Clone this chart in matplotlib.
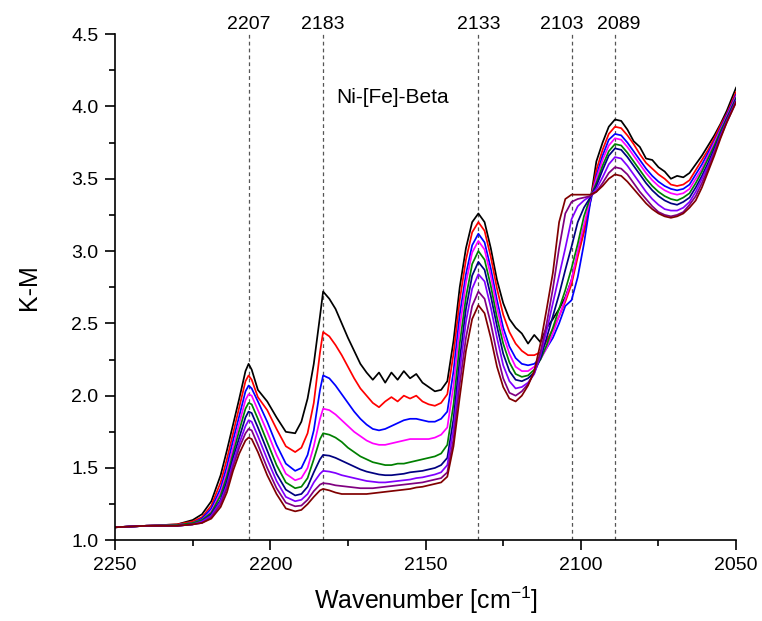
import matplotlib
matplotlib.use('Agg')
import matplotlib.pyplot as plt
from matplotlib.ticker import MultipleLocator

plt.rcParams['font.family'] = ['Liberation Sans', 'DejaVu Sans']
plt.rcParams['mathtext.default'] = 'regular'

# wavenumber grid (cm-1)
wavenumber = [
    2250, 2240, 2230, 2225, 2222, 2219, 2216, 2214, 2212, 2210, 2208, 2207,
    2206, 2204, 2201, 2198, 2195, 2192, 2190, 2188, 2186, 2184, 2183,
    2181, 2179, 2177, 2175, 2173, 2171, 2169, 2167, 2165, 2163, 2161, 2159,
    2157, 2155, 2153, 2151, 2149, 2147, 2145,
    2143, 2141, 2139, 2137, 2135, 2133,
    2131, 2129, 2127, 2125, 2123,
    2121, 2119, 2117, 2115, 2113, 2111, 2109, 2107, 2105, 2103, 2101, 2099,
    2097, 2095, 2093, 2091, 2089,
    2087, 2085, 2083, 2081, 2079, 2077, 2075, 2073, 2071, 2069, 2067, 2065,
    2063, 2061, 2059, 2057, 2055, 2053, 2050,
]

km_black = [
    1.09, 1.10, 1.11, 1.14, 1.18, 1.27, 1.45, 1.62, 1.80, 1.98, 2.17, 2.22,
    2.18, 2.04, 1.96, 1.85, 1.75, 1.74, 1.82, 1.98, 2.22, 2.55, 2.72,
    2.67, 2.60, 2.50, 2.40, 2.31, 2.22, 2.16, 2.11, 2.16, 2.09, 2.16, 2.11,
    2.17, 2.12, 2.15, 2.09, 2.06, 2.03, 2.04,
    2.10, 2.38, 2.75, 3.02, 3.20, 3.26,
    3.20, 3.02, 2.80, 2.64, 2.53,
    2.47, 2.43, 2.36, 2.42, 2.37, 2.47, 2.53, 2.60, 2.68, 2.80, 2.98, 3.14,
    3.34, 3.62, 3.75, 3.86, 3.91,
    3.90, 3.84, 3.76, 3.72, 3.64, 3.63, 3.58, 3.55, 3.50, 3.52, 3.51, 3.54,
    3.60, 3.66, 3.73, 3.80, 3.88, 3.97, 4.13,
]
km_red = [
    1.09, 1.10, 1.11, 1.13, 1.16, 1.24, 1.40, 1.56, 1.74, 1.92, 2.10, 2.14,
    2.11, 1.99, 1.90, 1.77, 1.65, 1.61, 1.64, 1.74, 1.95, 2.30, 2.44,
    2.41, 2.35, 2.28, 2.20, 2.12, 2.05, 2.00, 1.95, 1.92, 1.96, 1.99, 1.96,
    2.00, 1.98, 2.00, 1.96, 1.94, 1.93, 1.95,
    2.01, 2.29, 2.66, 2.94, 3.13, 3.20,
    3.14, 2.96, 2.74, 2.56, 2.44,
    2.36, 2.31, 2.28, 2.28, 2.30, 2.38, 2.46, 2.55, 2.65, 2.77, 2.96, 3.13,
    3.34, 3.56, 3.70, 3.81, 3.86,
    3.85, 3.80, 3.74, 3.67, 3.61, 3.57, 3.53, 3.50, 3.46, 3.45, 3.46, 3.49,
    3.56, 3.63, 3.70, 3.78, 3.87, 3.95, 4.10,
]
km_blue = [
    1.09, 1.10, 1.105, 1.12, 1.15, 1.22, 1.36, 1.51, 1.69, 1.86, 2.03, 2.07,
    2.05, 1.96, 1.82, 1.66, 1.53, 1.48, 1.50, 1.59, 1.76, 2.04, 2.14,
    2.12, 2.07, 2.01, 1.95, 1.89, 1.84, 1.80, 1.77, 1.76, 1.77, 1.79, 1.81,
    1.83, 1.84, 1.84, 1.83, 1.82, 1.82, 1.84,
    1.89, 2.17, 2.56, 2.84, 3.04, 3.12,
    3.06, 2.88, 2.66, 2.47, 2.34,
    2.26, 2.22, 2.21, 2.22, 2.26, 2.33, 2.40, 2.50, 2.62, 2.66, 2.82, 3.05,
    3.33, 3.52, 3.66, 3.77, 3.81,
    3.80, 3.75, 3.69, 3.63, 3.57, 3.52, 3.48, 3.45, 3.43, 3.42, 3.43, 3.46,
    3.53, 3.60, 3.68, 3.76, 3.85, 3.94, 4.08,
]
km_magenta = [
    1.09, 1.10, 1.105, 1.12, 1.14, 1.20, 1.33, 1.47, 1.64, 1.81, 1.97, 2.01,
    2.00, 1.90, 1.75, 1.59, 1.46, 1.415, 1.43, 1.50, 1.65, 1.84, 1.91,
    1.90, 1.87, 1.83, 1.79, 1.75, 1.72, 1.69, 1.67, 1.66, 1.66, 1.67, 1.68,
    1.69, 1.70, 1.70, 1.70, 1.70, 1.71, 1.73,
    1.78, 2.07, 2.47, 2.78, 2.99, 3.07,
    3.01, 2.83, 2.61, 2.42, 2.29,
    2.20, 2.17, 2.17, 2.20, 2.25, 2.33, 2.43, 2.55, 2.67, 2.80, 3.00, 3.18,
    3.36, 3.50, 3.63, 3.73, 3.78,
    3.77, 3.72, 3.66, 3.60, 3.54, 3.49, 3.45, 3.42, 3.40, 3.39, 3.40, 3.43,
    3.50, 3.57, 3.66, 3.75, 3.84, 3.93, 4.07,
]
km_green = [
    1.09, 1.10, 1.105, 1.12, 1.14, 1.19, 1.31, 1.44, 1.60, 1.76, 1.91, 1.95,
    1.94, 1.84, 1.68, 1.52, 1.40, 1.36, 1.37, 1.43, 1.56, 1.70, 1.74,
    1.73, 1.71, 1.68, 1.64, 1.61, 1.58, 1.56, 1.54, 1.53, 1.52, 1.52, 1.53,
    1.53, 1.54, 1.55, 1.56, 1.57, 1.58, 1.60,
    1.66, 1.94, 2.36, 2.68, 2.91, 3.00,
    2.94, 2.76, 2.54, 2.36, 2.23,
    2.15, 2.13, 2.14, 2.18, 2.25, 2.35, 2.47, 2.60, 2.73, 2.88, 3.05, 3.24,
    3.37, 3.47, 3.59, 3.69, 3.74,
    3.73, 3.68, 3.62, 3.56, 3.50, 3.45, 3.41, 3.38, 3.36, 3.35, 3.37, 3.40,
    3.47, 3.55, 3.64, 3.73, 3.83, 3.92, 4.06,
]
km_navy = [
    1.09, 1.10, 1.10, 1.11, 1.13, 1.18, 1.28, 1.41, 1.57, 1.71, 1.85, 1.89,
    1.88, 1.78, 1.62, 1.46, 1.35, 1.31, 1.32, 1.37, 1.47, 1.56, 1.59,
    1.585, 1.57, 1.55, 1.53, 1.51, 1.49, 1.475, 1.465, 1.455, 1.45, 1.45, 1.455,
    1.46, 1.47, 1.475, 1.48, 1.49, 1.50, 1.52,
    1.57, 1.84, 2.25, 2.60, 2.83, 2.925,
    2.87, 2.69, 2.48, 2.29, 2.17,
    2.11, 2.10, 2.12, 2.16, 2.26, 2.40, 2.55, 2.70, 2.87, 3.03, 3.20, 3.30,
    3.37, 3.45, 3.56, 3.66, 3.71,
    3.70, 3.65, 3.59, 3.53, 3.47, 3.42, 3.38, 3.35, 3.33, 3.32, 3.34, 3.37,
    3.44, 3.52, 3.61, 3.71, 3.81, 3.91, 4.05,
]
km_violet = [
    1.09, 1.10, 1.10, 1.11, 1.13, 1.17, 1.27, 1.38, 1.54, 1.67, 1.79, 1.83,
    1.82, 1.72, 1.56, 1.41, 1.30, 1.27, 1.28, 1.32, 1.40, 1.46, 1.48,
    1.475, 1.465, 1.45, 1.44, 1.43, 1.42, 1.41, 1.405, 1.40, 1.40, 1.405, 1.41,
    1.415, 1.42, 1.43, 1.435, 1.445, 1.455, 1.47,
    1.52, 1.77, 2.17, 2.51, 2.74, 2.84,
    2.79, 2.61, 2.40, 2.21, 2.10,
    2.05, 2.06, 2.09, 2.15, 2.28, 2.45, 2.64, 2.83, 3.02, 3.22, 3.31, 3.35,
    3.38, 3.43, 3.51, 3.60, 3.65,
    3.64, 3.59, 3.53, 3.47, 3.41, 3.36, 3.32, 3.29, 3.28, 3.28, 3.30, 3.34,
    3.41, 3.50, 3.59, 3.69, 3.80, 3.90, 4.04,
]
km_purple = [
    1.09, 1.10, 1.10, 1.11, 1.12, 1.16, 1.25, 1.36, 1.51, 1.64, 1.74, 1.77,
    1.76, 1.66, 1.50, 1.36, 1.26, 1.235, 1.24, 1.28, 1.34, 1.385, 1.395,
    1.39, 1.38, 1.375, 1.37, 1.365, 1.36, 1.36, 1.36, 1.365, 1.37, 1.375, 1.38,
    1.385, 1.39, 1.395, 1.40, 1.41, 1.42, 1.43,
    1.47, 1.70, 2.08, 2.40, 2.62, 2.72,
    2.67, 2.50, 2.29, 2.12, 2.02,
    2.00, 2.03, 2.08, 2.16, 2.30, 2.50, 2.74, 3.02, 3.26, 3.34, 3.36, 3.37,
    3.38, 3.41, 3.47, 3.54, 3.58,
    3.57, 3.53, 3.47, 3.41, 3.36, 3.31, 3.27, 3.25, 3.24, 3.25, 3.27, 3.32,
    3.38, 3.47, 3.57, 3.68, 3.79, 3.89, 4.03,
]
km_wine = [
    1.09, 1.10, 1.10, 1.11, 1.12, 1.15, 1.23, 1.33, 1.48, 1.60, 1.69, 1.71,
    1.70, 1.61, 1.45, 1.32, 1.22, 1.20, 1.21, 1.25, 1.30, 1.345, 1.355,
    1.345, 1.33, 1.32, 1.32, 1.32, 1.32, 1.32, 1.325, 1.33, 1.335, 1.34, 1.345,
    1.35, 1.355, 1.365, 1.37, 1.38, 1.39, 1.40,
    1.44, 1.65, 1.99, 2.31, 2.53, 2.625,
    2.57, 2.40, 2.20, 2.06, 1.98,
    1.96, 2.00, 2.07, 2.17, 2.36, 2.60, 2.85, 3.20, 3.36, 3.39, 3.39, 3.39,
    3.39, 3.41, 3.45, 3.50, 3.53,
    3.52, 3.48, 3.43, 3.38, 3.33, 3.29, 3.26, 3.24, 3.23, 3.24, 3.26, 3.30,
    3.35, 3.44, 3.55, 3.66, 3.78, 3.89, 4.03,
]

spectra = [km_black, km_red, km_blue, km_magenta, km_green,
           km_navy, km_violet, km_purple, km_wine]
colors = ['#000000', '#ff0000', '#0000ff', '#ff00ff', '#008000',
          '#000080', '#8000ff', '#800080', '#800000']

peaks = [2207, 2183, 2133, 2103, 2089]
# labels of the two close peaks are nudged apart, as in the original
label_pos = [2207, 2183, 2133, 2106, 2087.8]
sample_label = 'Ni-[Fe]-Beta'

fig = plt.figure(figsize=(7.62, 6.21), dpi=100)
ax = fig.add_axes([0.151, 0.130, 0.815, 0.815])

for y, c in zip(spectra, colors):
    ax.plot(wavenumber, y, color=c, lw=1.25)

for p, lx in zip(peaks, label_pos):
    ax.axvline(p, color='#555555', lw=0.9, ls=(0, (3, 2.5)), zorder=0)
    ax.text(lx, 1.003, str(p), transform=ax.get_xaxis_transform(),
            ha='center', va='bottom', fontsize=14)

ax.text(2160.5, 4.06, sample_label, ha='center', va='center', fontsize=15)

ax.set_xlim(2250, 2050)
ax.set_ylim(1.0, 4.5)
ax.xaxis.set_major_locator(MultipleLocator(50))
ax.xaxis.set_minor_locator(MultipleLocator(25))
ax.yaxis.set_major_locator(MultipleLocator(0.5))
ax.yaxis.set_minor_locator(MultipleLocator(0.25))
ax.yaxis.set_major_formatter(plt.FormatStrFormatter('%.1f'))

ax.spines['top'].set_visible(False)
ax.spines['right'].set_visible(False)
ax.spines['left'].set_linewidth(1.2)
ax.spines['bottom'].set_linewidth(1.2)
ax.tick_params(which='major', direction='out', length=7, width=1.2,
               labelsize=14, pad=5)
ax.tick_params(which='minor', direction='out', length=4, width=1.2)

ax.set_xlabel('Wavenumber [cm$^{-1}$]', fontsize=18, labelpad=8)
ax.set_ylabel('K-M', fontsize=18, labelpad=22)

fig.savefig('out.png', dpi=100)
